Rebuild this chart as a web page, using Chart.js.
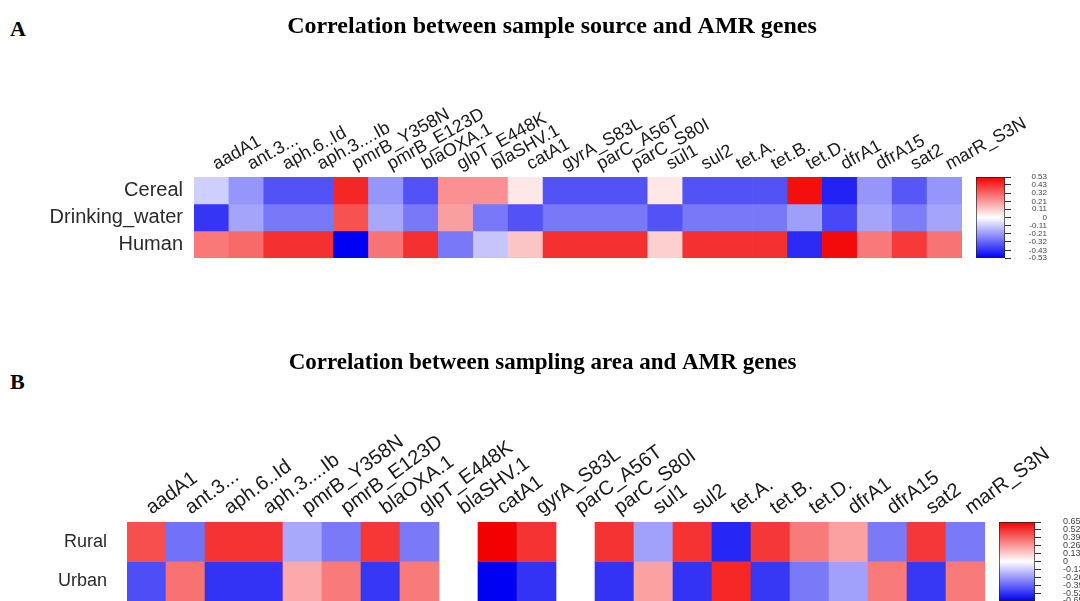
<!DOCTYPE html>
<html>
<head>
<meta charset="utf-8">
<script src="https://cdn.jsdelivr.net/npm/chart.js@4.4.0/dist/chart.umd.min.js"></script>
<style>
  html, body { margin: 0; padding: 0; background: #fff; }
  body { width: 1080px; height: 601px; position: relative; overflow: hidden; }
  canvas { position: absolute; }
  .tag { position: absolute; font: bold 22px "Liberation Serif", serif; color: #000; }
</style>
</head>
<body>
<div class="tag" style="left:10px; top:16px;">A</div>
<div class="tag" style="left:10px; top:369px;">B</div>
<canvas id="heatA" width="1104" height="300" style="left:0;top:0"></canvas>
<canvas id="barA" width="120" height="120" style="left:960px;top:160px"></canvas>
<canvas id="heatB" width="1085" height="271" style="left:0;top:330px"></canvas>
<canvas id="barB" width="100" height="96" style="left:980px;top:505px"></canvas>
<script>
// ===== Data =====
const genes = ["aadA1", "ant.3...", "aph.6..Id", "aph.3....Ib", "pmrB_Y358N", "pmrB_E123D", "blaOXA.1",
  "glpT_E448K", "blaSHV.1", "catA1", "gyrA_S83L", "parC_A56T", "parC_S80I", "sul1", "sul2", "tet.A.",
  "tet.B.", "tet.D.", "dfrA1", "dfrA15", "sat2", "marR_S3N"];

// A: sample source
const sourceRows = ["Cereal", "Drinking_water", "Human"];
const cereal = [-0.1, -0.22, -0.36, -0.36, 0.45, -0.22, -0.36, 0.23, 0.23, 0.05, -0.36,
  -0.36, -0.36, 0.05, -0.36, -0.36, -0.36, 0.5, -0.46, -0.22, -0.35, -0.22];
const drinkingWater = [-0.42, -0.19, -0.28, -0.28, 0.36, -0.18, -0.28, 0.2, -0.28, -0.36, -0.28,
  -0.28, -0.28, -0.36, -0.28, -0.28, -0.28, -0.2, -0.38, -0.19, -0.27, -0.19];
const human = [0.28, 0.31, 0.43, 0.43, -0.53, 0.29, 0.43, -0.28, -0.12, 0.12, 0.43,
  0.43, 0.43, 0.1, 0.43, 0.43, 0.43, -0.44, 0.51, 0.28, 0.41, 0.29];
const limitA = 0.53;
const ticksA = [-0.53, -0.43, -0.32, -0.21, -0.11, 0, 0.11, 0.21, 0.32, 0.43, 0.53];

// B: sampling area (null = no value)
const areaRows = ["Rural", "Urban"];
const rural = [0.45, -0.36, 0.52, 0.52, -0.22, -0.34, 0.51, -0.34, null, 0.65, 0.52,
  null, 0.52, -0.24, 0.52, -0.55, 0.51, 0.34, 0.24, -0.34, 0.51, -0.34];
const urban = [-0.45, 0.36, -0.52, -0.52, 0.22, 0.34, -0.51, 0.34, null, -0.65, -0.52,
  null, -0.52, 0.24, -0.52, 0.55, -0.51, -0.34, -0.24, 0.34, -0.51, 0.34];
const limitB = 0.65;
const ticksB = [-0.65, -0.52, -0.39, -0.26, -0.13, 0, 0.13, 0.26, 0.39, 0.52, 0.65];

// blue - white - red
function corrColor(v, lim) {
  const t = Math.min(Math.abs(v) / lim, 1);
  const f = Math.round(255 * (1 - t));
  const m = Math.round(255 - 12 * t);
  return v >= 0 ? `rgb(${m},${f},${f})` : `rgb(${f},${f},${m})`;
}

function heatmap(id, o) {
  new Chart(document.getElementById(id), {
    type: "bar",
    data: {
      labels: genes,
      datasets: o.series.map((vals, i) => ({
        label: o.rows[i],
        data: vals.map(v => (v === null ? null : [i, i + 1])),
        backgroundColor: vals.map(v => (v === null ? "rgba(0,0,0,0)" : corrColor(v, o.limit))),
        borderWidth: 0,
        grouped: false,
        barPercentage: 1,
        categoryPercentage: 1
      }))
    },
    options: {
      responsive: false,
      animation: false,
      layout: { padding: { left: 0, right: 0, top: 0, bottom: o.bottom } },
      plugins: {
        legend: { display: false },
        tooltip: { enabled: false },
        title: {
          display: true,
          text: o.title,
          color: "#000",
          font: { family: "Liberation Serif", size: o.titleSize, weight: "bold" },
          padding: { top: o.titleTop, bottom: 0 }
        }
      },
      scales: {
        x: {
          position: "top",
          grid: { display: false, drawTicks: false },
          border: { display: false },
          ticks: {
            autoSkip: false,
            minRotation: o.rot,
            maxRotation: o.rot,
            padding: 2,
            labelOffset: o.labelShift,
            color: "#1a1a1a",
            font: { family: "Liberation Sans", size: o.colFont }
          },
          afterFit: s => { s.height = o.axisH; s.paddingLeft = 0; s.paddingRight = 0; }
        },
        y: {
          reverse: true,
          min: 0,
          max: o.rows.length,
          grid: { display: false, drawTicks: false },
          border: { display: false },
          ticks: {
            padding: o.rowPad,
            color: "#2a2a2a",
            font: { family: "Liberation Sans", size: o.rowFont },
            callback: (v, i) => o.rows[i]
          },
          afterBuildTicks: s => { s.ticks = o.rows.map((r, i) => ({ value: i + 0.5 })); },
          afterFit: s => { s.width = o.left; s.paddingTop = 0; s.paddingBottom = 0; }
        },
        // empty right-hand space, so the title centres where the original's does
        side: {
          position: "right",
          grid: { display: false, drawTicks: false },
          border: { display: false },
          ticks: { display: false },
          afterFit: s => { s.width = o.right; }
        }
      }
    }
  });
}

function colorBar(id, o) {
  new Chart(document.getElementById(id), {
    type: "bar",
    data: {
      labels: [""],
      datasets: [{
        data: [[-o.limit, o.limit]],
        backgroundColor: ctx => {
          const a = ctx.chart.chartArea;
          if (!a) return "#fff";
          const g = ctx.chart.ctx.createLinearGradient(0, a.bottom, 0, a.top);
          g.addColorStop(0, corrColor(-o.limit, o.limit));
          g.addColorStop(0.25, corrColor(-o.limit / 2, o.limit));
          g.addColorStop(0.5, "#fff");
          g.addColorStop(0.75, corrColor(o.limit / 2, o.limit));
          g.addColorStop(1, corrColor(o.limit, o.limit));
          return g;
        },
        borderColor: "#222",
        borderWidth: 1,
        borderSkipped: false,
        barPercentage: 1,
        categoryPercentage: 1
      }]
    },
    options: {
      responsive: false,
      animation: false,
      layout: { padding: o.padding },
      plugins: { legend: { display: false }, tooltip: { enabled: false } },
      scales: {
        x: { display: false },
        y: {
          position: "right",
          min: -o.limit,
          max: o.limit,
          grid: { drawOnChartArea: false, tickLength: 6, color: "#333" },
          border: { display: false },
          ticks: {
            autoSkip: false,
            padding: o.tickPad,
            crossAlign: o.align,
            color: "#444",
            font: { family: "Liberation Sans", size: o.font },
            callback: v => String(v)
          },
          afterBuildTicks: s => { s.ticks = o.ticks.map(v => ({ value: v })); },
          afterFit: s => { s.width = o.axisW; s.paddingTop = 0; s.paddingBottom = 0; }
        }
      }
    }
  });
}

// ===== Panel A =====
heatmap("heatA", {
  title: "Correlation between sample source and AMR genes",
  titleSize: 24,
  titleTop: 12.6,
  rows: sourceRows,
  series: [cereal, drinkingWater, human],
  limit: limitA,
  bottom: 42,
  axisH: 135.6,
  left: 194,
  right: 142,
  rowPad: 11,
  rot: 29,
  labelShift: 13,
  colFont: 18,
  rowFont: 20
});
colorBar("barA", {
  limit: limitA, ticks: ticksA,
  padding: { left: 16, right: 33, top: 17, bottom: 22 },
  axisW: 42, tickPad: 4, font: 8, align: "far"
});

// ===== Panel B =====
heatmap("heatB", {
  title: "Correlation between sampling area and AMR genes",
  titleSize: 23,
  titleTop: 19.5,
  rows: areaRows,
  series: [rural, urban],
  limit: limitB,
  bottom: 0,
  axisH: 144.9,
  left: 127,
  right: 100,
  rowPad: 20,
  rot: 36,
  labelShift: 16,
  colFont: 20,
  rowFont: 18
});
colorBar("barB", {
  limit: limitB, ticks: ticksB,
  padding: { left: 19, right: 0, top: 17, bottom: 0 },
  axisW: 45, tickPad: 22, font: 9, align: "near"
});
</script>
</body>
</html>
